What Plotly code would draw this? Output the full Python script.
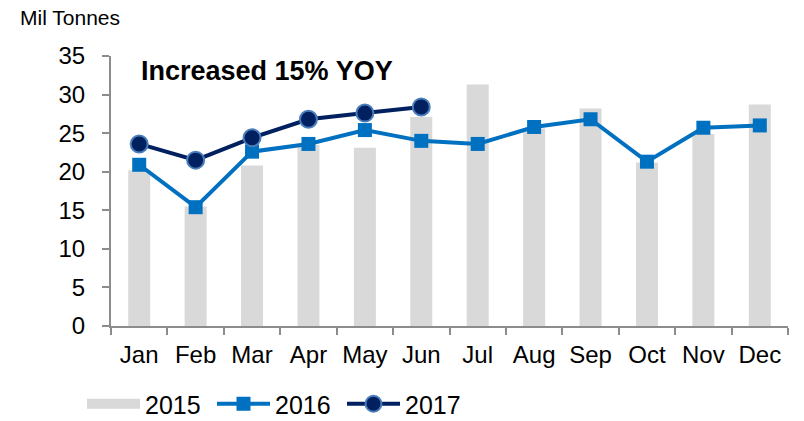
import plotly.graph_objects as go

# Monthly volumes, million tonnes
months = ["Jan", "Feb", "Mar", "Apr", "May", "Jun",
          "Jul", "Aug", "Sep", "Oct", "Nov", "Dec"]
vol_2015 = [20.2, 15.5, 20.8, 23.5, 23.1, 27.1, 31.3, 25.6, 28.2, 21.2, 24.9, 28.7]
vol_2016 = [20.9, 15.4, 22.6, 23.6, 25.4, 24.0, 23.6, 25.8, 26.8, 21.3, 25.7, 26.0]
vol_2017 = [23.6, 21.5, 24.4, 26.8, 27.6, 28.4]
y_ticks = [0, 5, 10, 15, 20, 25, 30, 35]

FONT = "Liberation Sans, Arial, sans-serif"
AXIS_GREY = "#8C8C8C"
BAR_GREY = "#D9D9D9"

fig = go.Figure()

fig.add_trace(go.Bar(
    x=months, y=vol_2015, name="2015", legendgroup="2015", showlegend=False,
    marker=dict(color=BAR_GREY, line=dict(width=0)),
    width=0.39,
))
# wide flat swatch for the 2015 legend entry
fig.add_trace(go.Scatter(
    x=[None], y=[None], name="2015", legendgroup="2015", mode="lines",
    line=dict(color=BAR_GREY, width=12),
))

fig.add_trace(go.Scatter(
    x=months, y=vol_2016, name="2016", mode="lines+markers",
    line=dict(color="#0070C0", width=4),
    marker=dict(symbol="square", size=14, color="#0070C0"),
))

fig.add_trace(go.Scatter(
    x=months[:len(vol_2017)], y=vol_2017, name="2017", mode="lines+markers",
    line=dict(color="#002060", width=4),
    marker=dict(symbol="circle", size=17, color="#002060",
                line=dict(color="#4A7EBB", width=2)),
))

fig.update_layout(
    width=804, height=421,
    margin=dict(l=111, r=16, t=56, b=95, pad=0, autoexpand=False),
    paper_bgcolor="white", plot_bgcolor="white",
    font=dict(family=FONT, color="black", size=24),
    showlegend=True,
    legend=dict(
        orientation="h", xref="container", yref="container",
        x=82 / 804, xanchor="left", y=1 - 404 / 421, yanchor="middle",
        font=dict(size=25), itemwidth=53, traceorder="normal",
        entrywidth=62, entrywidthmode="pixels",
        bgcolor="rgba(0,0,0,0)",
    ),
    xaxis=dict(
        type="category", categoryorder="array", categoryarray=months,
        range=[-0.5, len(months) - 0.5],
        showline=True, linecolor=AXIS_GREY, linewidth=2,
        ticks="outside", tickson="boundaries", ticklen=7,
        tickcolor=AXIS_GREY, tickwidth=2, tickangle=0,
        showgrid=False, zeroline=False, automargin=False,
        tickfont=dict(size=24), ticklabelstandoff=6,
    ),
    yaxis=dict(
        range=[0, 35], tickvals=y_ticks,
        showline=True, linecolor=AXIS_GREY, linewidth=2,
        ticks="outside", ticklen=7, tickcolor=AXIS_GREY, tickwidth=2,
        showgrid=False, zeroline=False, automargin=False,
        tickfont=dict(size=24), ticklabelstandoff=12,
    ),
    bargap=0.61,
)

fig.add_annotation(
    text="Mil Tonnes", xref="paper", yref="paper",
    x=-111 / 677, xanchor="left", xshift=18,
    y=1, yanchor="bottom", yshift=25,
    showarrow=False, font=dict(size=21),
)

fig.add_annotation(
    text="<b>Increased 15% YOY</b>", xref="paper", yref="paper",
    x=0, xanchor="left", xshift=28,
    y=1, yanchor="middle", yshift=-15,
    showarrow=False, font=dict(size=27),
)

fig.write_html("out.html")
